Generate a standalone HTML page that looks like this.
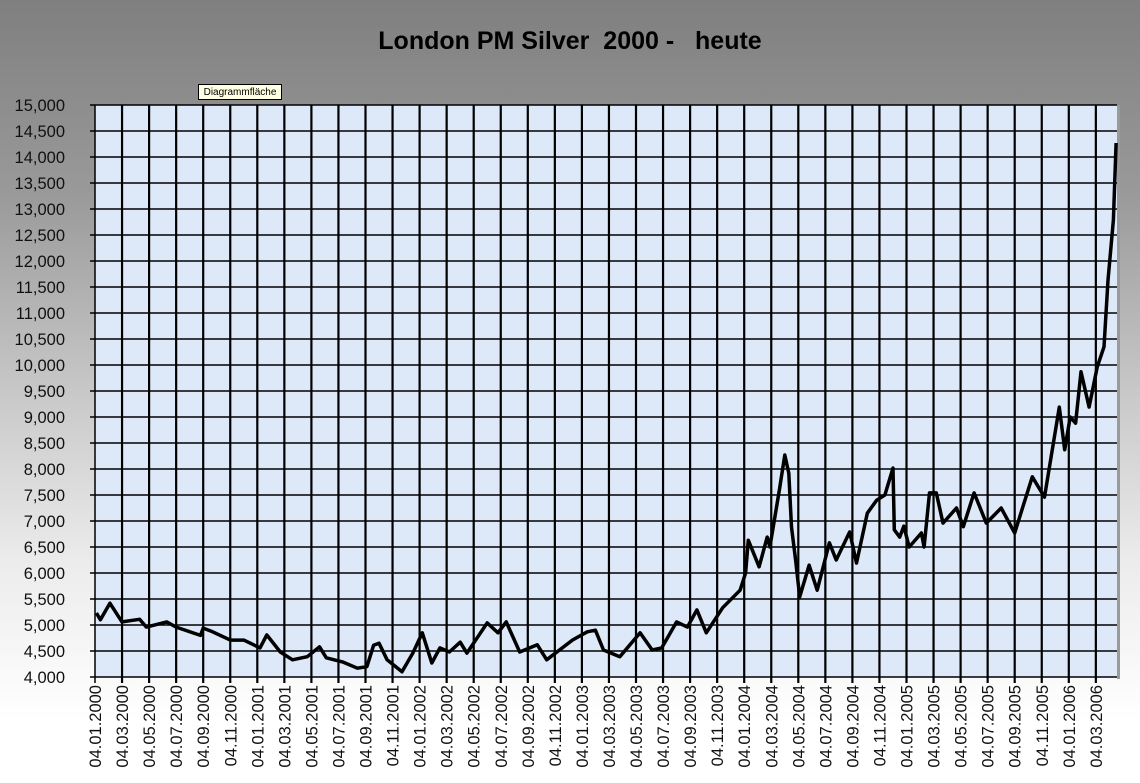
<!DOCTYPE html>
<html><head><meta charset="utf-8"><style>
html,body{margin:0;padding:0}
body{width:1140px;height:783px;overflow:hidden;background:linear-gradient(#7f7f7f 0%,#9a9a9a 25%,#c8c8c8 50%,#ececec 72%,#fff 92%);font-family:"Liberation Sans",sans-serif}
#title{position:absolute;left:0;width:1140px;top:27px;text-align:center;font-weight:bold;font-size:25px;color:#000}
#tip{position:absolute;left:198px;top:84px;width:84px;height:16px;background:#ffffe1;border:1px solid #000;font-size:10px;line-height:15px;text-align:center;box-sizing:border-box}
</style></head><body>
<div id="title">London PM Silver&nbsp; 2000 - &nbsp; heute</div>
<svg id="chart" width="1140" height="783" style="position:absolute;left:0;top:0"></svg>
<div id="tip">Diagrammfläche</div>
<script>
const xTickLabels=[];
const tickYears=[2000,2001,2002,2003,2004,2005,2006];
const yTicks=[4000,4500,5000,5500,6000,6500,7000,7500,8000,8500,9000,9500,10000,10500,11000,11500,12000,12500,13000,13500,14000,14500,15000];
const months=[0.1,0.4,1.1,2,3.3,3.8,5.3,6,7.8,8,8.6,10,11,12.2,12.7,13.7,14.6,15.7,16.6,17.1,18.3,19.4,20.1,20.6,21,21.6,22.7,23.5,24.2,24.9,25.5,26.2,27,27.5,29,29.8,30.4,31.4,32.7,33.4,35.3,36.4,37,37.6,38.8,40.3,41.2,41.9,43,43.8,44.5,45.2,46.4,47.7,48.1,48.3,49.1,49.7,49.9,50.6,51,51.3,51.5,51.8,52.1,52.8,53.4,54.3,54.8,55.8,56.3,57.1,57.8,58.4,59,59.1,59.5,59.8,60.2,61.1,61.3,61.7,62.2,62.7,63.7,64.2,65,65.9,67,68,68.6,69.3,70.2,71.3,71.7,72.1,72.5,72.9,73.5,74.1,74.6,74.9,75.3,75.5];
const values=[5230,5100,5420,5060,5110,4960,5060,4960,4800,4940,4880,4710,4710,4560,4810,4480,4330,4390,4580,4370,4290,4170,4200,4610,4650,4330,4100,4460,4850,4270,4560,4480,4670,4460,5040,4850,5060,4480,4620,4330,4710,4870,4900,4520,4390,4850,4520,4560,5060,4960,5290,4850,5330,5670,6000,6630,6120,6690,6500,7600,8270,7920,6880,6250,5540,6150,5670,6580,6250,6790,6190,7150,7400,7500,8020,6830,6690,6900,6500,6770,6500,7540,7540,6960,7250,6890,7540,6960,7250,6770,7270,7850,7460,9190,8370,9000,8880,9870,9190,9960,10350,11630,12790,14270];
for(const yr of tickYears){for(let m=1;m<=11;m+=2){if(yr===2006&&m>3)break;xTickLabels.push('04.'+String(m).padStart(2,'0')+'.'+yr);}}
const L=95,R=1117,T=105,B=677,step=27.05;
const xs=t=>L+t*step/2;
const ys=v=>B-(v-4000)/11000*(B-T);
const NS='http://www.w3.org/2000/svg',svg=document.getElementById('chart');
function mk(tag,attrs){const e=document.createElementNS(NS,tag);for(const k in attrs)e.setAttribute(k,attrs[k]);svg.appendChild(e);return e;}
const bg=mk('rect',{x:L,y:T,width:R-L,height:B-T,fill:'#dde9f8'});


const sh=mk('rect',{x:R,y:T,width:3,height:B-T+2,fill:'#9a9a9a'});


yTicks.forEach(v=>{const y=ys(v);
 const g=mk('line',{x1:L-5,x2:R,y1:y,y2:y,stroke:'#000','stroke-width':1.5});
 
 
 const t=mk('text',{x:65,y:y+6,'text-anchor':'end','font-size':16.5,fill:'#111','font-family':'Liberation Sans'});
 t.textContent=v.toLocaleString('en-US');
 
 });
xTickLabels.forEach((lab,i)=>{const x=xs(i*2);
 const g=mk('line',{x1:x,x2:x,y1:T,y2:B+6,stroke:'#000','stroke-width':i===0?1.5:2.2});
 
 
 const t=mk('text',{x:0,y:0,'text-anchor':'end','font-size':16.5,fill:'#111','font-family':'Liberation Sans',transform:`translate(${x+6},${B+8}) rotate(-90)`});
 t.textContent=lab;
 
 });
const d=months.map((m,i)=>(i?'L':'M')+xs(m).toFixed(1)+','+ys(values[i]).toFixed(1)).join('');
const p=mk('path',{d:d,fill:'none',stroke:'#000','stroke-width':3.5,'stroke-linejoin':'round'});


</script>
</body></html>
